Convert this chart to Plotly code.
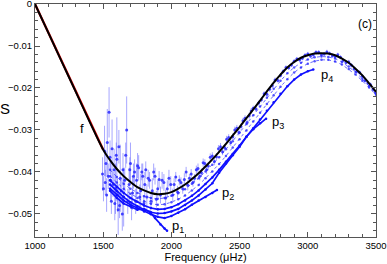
import plotly.graph_objects as go

# ---------------- data ----------------
model_freq = [1000, 1100, 1200, 1300, 1400, 1500, 1550, 1600, 1650, 1700, 1750, 1800, 1850, 1900,
              1950, 2000, 2050, 2100, 2150, 2200, 2250, 2300, 2350, 2400, 2450, 2500, 2550, 2600,
              2650, 2700, 2750, 2800, 2850, 2900, 2950, 3000, 3050, 3100, 3150, 3200, 3250, 3300,
              3350, 3400, 3450, 3500]
model_S = [0.0, -0.0070, -0.0140, -0.0210, -0.0280, -0.0347, -0.0372, -0.0393, -0.0410, -0.0424,
           -0.0436, -0.0444, -0.0450, -0.0453, -0.0452, -0.0448, -0.0440, -0.0430, -0.0417, -0.0403,
           -0.0387, -0.0370, -0.0352, -0.0333, -0.0313, -0.0293, -0.0272, -0.0251, -0.0230, -0.0208,
           -0.0187, -0.0168, -0.0151, -0.0138, -0.0128, -0.0122, -0.0118, -0.0117, -0.0118, -0.0122,
           -0.0130, -0.0140, -0.0154, -0.0170, -0.0189, -0.0209]

red_freq = [1000, 1100, 1200, 1300, 1400, 1500]
red_S = [0.0, -0.0070, -0.0140, -0.0210, -0.0280, -0.0347]

band_freq = [1550, 1600, 1650, 1700, 1750, 1800, 1850, 1900, 1950, 2000, 2050, 2100, 2150, 2200,
             2250, 2300, 2350, 2400, 2450, 2500, 2550, 2600, 2650, 2700, 2750, 2800, 2850, 2900,
             2950, 3000, 3050, 3100, 3150, 3200, 3250, 3300, 3350, 3400, 3450, 3500]
bandA_S = [-0.0395, -0.0412, -0.0428, -0.0440, -0.0450, -0.0458, -0.0462, -0.0464, -0.0462, -0.0457,
           -0.0451, -0.0441, -0.0428, -0.0415, -0.0399, -0.0383, -0.0365, -0.0346, -0.0327, -0.0306,
           -0.0286, -0.0265, -0.0244, -0.0223, -0.0202, -0.0183, -0.0165, -0.0151, -0.0140, -0.0132,
           -0.0127, -0.0125, -0.0126, -0.0130, -0.0138, -0.0149, -0.0162, -0.0178, -0.0195, -0.0213]
bandB_S = [-0.0410, -0.0425, -0.0440, -0.0452, -0.0462, -0.0470, -0.0476, -0.0478, -0.0477, -0.0472,
           -0.0465, -0.0456, -0.0444, -0.0431, -0.0415, -0.0399, -0.0381, -0.0362, -0.0342, -0.0322,
           -0.0301, -0.0280, -0.0259, -0.0238, -0.0217, -0.0197, -0.0179, -0.0163, -0.0151, -0.0142,
           -0.0136, -0.0133, -0.0133, -0.0137, -0.0144, -0.0155, -0.0168, -0.0183, -0.0199, -0.0216]

p4_freq = [1550, 1600, 1650, 1700, 1750, 1800, 1850, 1900, 1950, 2000, 2050, 2100, 2150, 2200, 2250,
           2300, 2350, 2400, 2450, 2500, 2550, 2600, 2650, 2700, 2750, 2800, 2850, 2900, 2950, 3000, 3040]
p4_S = [-0.0420, -0.0436, -0.0450, -0.0462, -0.0471, -0.0480, -0.0486, -0.0489, -0.0488, -0.0484,
        -0.0477, -0.0468, -0.0457, -0.0444, -0.0429, -0.0413, -0.0395, -0.0376, -0.0357, -0.0337,
        -0.0316, -0.0296, -0.0275, -0.0254, -0.0234, -0.0214, -0.0196, -0.0180, -0.0168, -0.0160, -0.0156]

p3_freq = [1550, 1600, 1650, 1700, 1750, 1800, 1850, 1900, 1950, 2000, 2050, 2100, 2150, 2200, 2250,
           2300, 2350, 2400, 2450, 2500, 2550, 2600, 2650, 2694]
p3_S = [-0.0430, -0.0446, -0.0460, -0.0472, -0.0482, -0.0490, -0.0496, -0.0499, -0.0498, -0.0494,
        -0.0488, -0.0479, -0.0468, -0.0456, -0.0442, -0.0427, -0.0402, -0.0380, -0.0360, -0.0340,
        -0.0316, -0.0298, -0.0284, -0.0273]

p2_freq = [1550, 1600, 1650, 1700, 1750, 1800, 1850, 1900, 1950, 2000, 2050, 2100, 2150, 2200, 2250,
           2300, 2334]
p2_S = [-0.0440, -0.0455, -0.0468, -0.0478, -0.0486, -0.0494, -0.0501, -0.0507, -0.0510, -0.0505,
        -0.0497, -0.0489, -0.0478, -0.0468, -0.0460, -0.0450, -0.0443]

p1_freq = [1550, 1600, 1650, 1700, 1750, 1800, 1843, 1880, 1920, 1950, 1968]
p1_S = [-0.0445, -0.0462, -0.0475, -0.0482, -0.0490, -0.0488, -0.0495, -0.0510, -0.0525, -0.0535, -0.0540]

obs_freq = [1495, 1502, 1510, 1515, 1520, 1525, 1530, 1537, 1543, 1550, 1555, 1560, 1565, 1572, 1580,
            1585, 1590, 1596, 1600, 1605, 1610, 1615, 1620, 1625, 1632, 1640, 1645, 1650, 1658, 1665,
            1672, 1680, 1690, 1695, 1700, 1708, 1715, 1722, 1730, 1738, 1745, 1752, 1760, 1768, 1775,
            1783, 1790, 1798, 1805, 1812, 1820, 1830, 1840, 1850, 1860, 1870, 1880, 1890, 1900, 1910,
            1920, 1932, 1945, 1958, 1970, 1982, 1995,
            2010, 2020, 2032, 2045, 2058, 2070, 2083, 2095, 2108, 2120, 2132, 2145, 2158, 2170, 2183,
            2195, 2208, 2220, 2233, 2245, 2258, 2270, 2285, 2300, 2315, 2330, 2345, 2360, 2375, 2390,
            2405, 2420, 2435, 2450, 2465, 2480, 2495, 2510, 2525, 2540, 2555, 2570, 2585, 2600, 2620,
            2640, 2660, 2680, 2700, 2720, 2740, 2760, 2780, 2800, 2820, 2840, 2860, 2880, 2900, 2920,
            2940, 2960, 2980, 3000, 3020, 3040, 3060, 3080, 3100, 3120, 3140, 3160, 3180, 3200, 3220,
            3240, 3260, 3280, 3300, 3320, 3340, 3360, 3380, 3400, 3420, 3440, 3460, 3480, 3495]
obs_S = [-0.0405, -0.0440, -0.0350, -0.0425, -0.0380, -0.0455, -0.0330, -0.0410, -0.0258, -0.0365,
         -0.0420, -0.0470, -0.0345, -0.0430, -0.0395, -0.0475, -0.0440, -0.0360, -0.0370, -0.0455,
         -0.0490, -0.0340, -0.0480, -0.0415, -0.0445, -0.0500, -0.0395, -0.0460, -0.0420, -0.0360,
         -0.0300, -0.0470, -0.0430, -0.0395, -0.0380, -0.0485, -0.0450, -0.0410, -0.0400, -0.0470,
         -0.0420, -0.0385, -0.0390, -0.0460, -0.0445, -0.0400, -0.0410, -0.0475, -0.0430, -0.0395,
         -0.0460, -0.0415, -0.0420, -0.0470, -0.0445, -0.0400, -0.0410, -0.0465, -0.0440, -0.0418,
         -0.0455, -0.0420, -0.0425, -0.0462, -0.0440, -0.0415, -0.0430,
         -0.0455, -0.0430, -0.0412, -0.0448, -0.0420, -0.0425, -0.0440, -0.0418, -0.0400, -0.0432,
         -0.0415, -0.0405, -0.0425, -0.0415, -0.0395, -0.0392, -0.0410, -0.0402, -0.0378, -0.0380,
         -0.0395, -0.0386, -0.0365, -0.0362, -0.0375, -0.0364, -0.0345, -0.0340, -0.0352, -0.0342,
         -0.0322, -0.0318, -0.0330, -0.0316, -0.0300, -0.0296, -0.0306, -0.0292, -0.0278, -0.0272,
         -0.0282, -0.0266, -0.0255, -0.0248, -0.0250, -0.0236, -0.0228, -0.0214, -0.0215, -0.0203,
         -0.0194, -0.0181, -0.0182, -0.0170, -0.0160, -0.0151, -0.0152, -0.0145, -0.0136, -0.0131,
         -0.0133, -0.0129, -0.0122, -0.0119, -0.0124, -0.0121, -0.0115, -0.0115, -0.0121, -0.0119,
         -0.0114, -0.0118, -0.0123, -0.0125, -0.0121, -0.0127, -0.0134, -0.0139, -0.0138, -0.0146,
         -0.0155, -0.0160, -0.0163, -0.0172, -0.0182, -0.0188, -0.0192, -0.0203, -0.0211]
obs_err = [0.004, 0.003, 0.006, 0.003, 0.003, 0.004, 0.008, 0.003, 0.006, 0.004,
           0.005, 0.003, 0.007, 0.003, 0.005, 0.004, 0.006, 0.003, 0.010, 0.004,
           0.006, 0.004, 0.003, 0.008, 0.003, 0.004, 0.004, 0.007, 0.003, 0.003,
           0.008, 0.003, 0.004, 0.003, 0.005, 0.003, 0.004, 0.003, 0.003, 0.003,
           0.004, 0.003, 0.003, 0.003, 0.004, 0.002, 0.003, 0.002, 0.003, 0.002,
           0.003, 0.002, 0.002, 0.002, 0.003, 0.002, 0.002, 0.002, 0.002, 0.002,
           0.002, 0.002, 0.002, 0.002, 0.002, 0.002, 0.002,
           0.0015, 0.0015, 0.0012, 0.0015, 0.0012, 0.0012, 0.0012, 0.0015, 0.0012, 0.0012,
           0.0010, 0.0012, 0.0010, 0.0010, 0.0010, 0.0012, 0.0010, 0.0010, 0.0010, 0.0010,
           0.0010, 0.0010, 0.0009, 0.0009, 0.0009, 0.0009, 0.0009, 0.0009, 0.0008, 0.0008,
           0.0008, 0.0008, 0.0008, 0.0008, 0.0008, 0.0008, 0.0007, 0.0007, 0.0007, 0.0007,
           0.0007, 0.0007, 0.0007, 0.0006, 0.0006, 0.0006, 0.0006, 0.0006, 0.0006, 0.0006,
           0.0006, 0.0006, 0.0005, 0.0005, 0.0005, 0.0005, 0.0005, 0.0005, 0.0005, 0.0005,
           0.0005, 0.0005, 0.0005, 0.0005, 0.0005, 0.0005, 0.0005, 0.0005, 0.0005, 0.0005,
           0.0005, 0.0005, 0.0005, 0.0005, 0.0005, 0.0005, 0.0005, 0.0005, 0.0005, 0.0005,
           0.0005, 0.0005, 0.0005, 0.0005, 0.0005, 0.0005, 0.0005, 0.0005, 0.0005]

x_ticks = [1000, 1500, 2000, 2500, 3000, 3500]
y_ticks = [0, -0.01, -0.02, -0.03, -0.04, -0.05]

# ---------------- figure ----------------
BLUE = "#1010ff"
fig = go.Figure()

fig.add_trace(go.Scatter(x=obs_freq, y=obs_S, mode="markers",
                         marker=dict(size=3, color="rgba(40,40,255,0.85)"),
                         error_y=dict(type="data", array=obs_err, visible=True,
                                      color="rgba(80,80,255,0.5)", thickness=1, width=0)))
for s in (bandA_S, bandB_S):
    fig.add_trace(go.Scatter(x=band_freq, y=s, mode="lines+markers",
                             line=dict(color="rgba(40,40,255,0.7)", width=1, dash="dot"),
                             marker=dict(size=2.5, color="rgba(40,40,255,0.8)")))
for fx, sy in ((p4_freq, p4_S), (p3_freq, p3_S), (p2_freq, p2_S), (p1_freq, p1_S)):
    fig.add_trace(go.Scatter(x=fx, y=sy, mode="lines+markers",
                             line=dict(color=BLUE, width=1.7),
                             marker=dict(size=2.5, color=BLUE)))

fig.add_trace(go.Scatter(x=red_freq, y=red_S, mode="lines",
                         line=dict(color="#e00000", width=2.3)))
fig.add_trace(go.Scatter(x=model_freq, y=model_S, mode="lines", line_shape="spline",
                         line=dict(color="black", width=2)))

font = dict(family="Liberation Sans, Arial, sans-serif", color="black")
ann = [
    dict(x=1345, y=-0.0296, text="f", size=13),
    dict(x=3419, y=-0.0047, text="(c)", size=12),
    dict(x=2048, y=-0.0531, text="p<sub>1</sub>", size=13),
    dict(x=2415, y=-0.0451, text="p<sub>2</sub>", size=13),
    dict(x=2781, y=-0.0282, text="p<sub>3</sub>", size=13),
    dict(x=3141, y=-0.0171, text="p<sub>4</sub>", size=13),
]
annotations = [dict(x=a["x"], y=a["y"], xref="x", yref="y", text=a["text"], showarrow=False,
                    xanchor="center", yanchor="middle", font=dict(font, size=a["size"]))
               for a in ann]
annotations.append(dict(x=(5 - 35) / 341, y=1 - (108 - 4) / 233, xref="paper", yref="paper",
                        text="S", showarrow=False, xanchor="center", yanchor="middle",
                        font=dict(font, size=15)))

axis_common = dict(showline=True, linecolor="#555", linewidth=1, mirror="ticks",
                   ticks="inside", ticklen=5, tickcolor="#555", showgrid=False, zeroline=False,
                   automargin=False, ticklabeloverflow="allow", tickfont=dict(font, size=9.5))
fig.update_layout(
    width=387, height=264, margin=dict(l=35, r=11, t=4, b=27),
    paper_bgcolor="white", plot_bgcolor="white", showlegend=False,
    font=font, annotations=annotations,
    xaxis=dict(axis_common, range=[1000, 3500], tickvals=x_ticks, ticklabelstandoff=0,
               minor=dict(dtick=100, ticks="inside", ticklen=3, tickcolor="#555"),
               title=dict(text="Frequency (μHz)", font=dict(font, size=11), standoff=0)),
    yaxis=dict(axis_common, range=[-0.0555, 0.00001], tickvals=y_ticks,
               minor=dict(dtick=0.002, ticks="inside", ticklen=3, tickcolor="#555")),
)

fig.write_html("out.html", config={"displayModeBar": False},
               post_script="document.body.style.margin='0px';")
